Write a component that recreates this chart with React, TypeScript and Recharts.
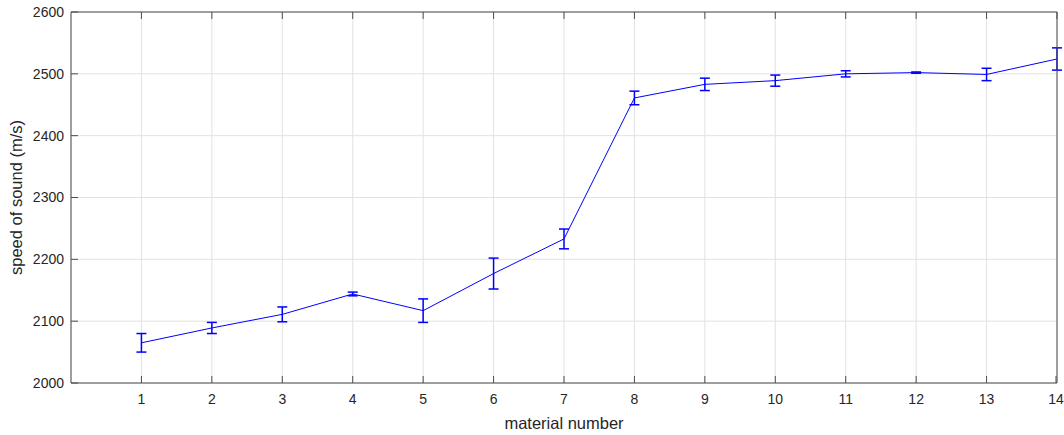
import { CartesianGrid, ErrorBar, Line, LineChart, XAxis, YAxis } from "recharts";

const materials = [1, 2, 3, 4, 5, 6, 7, 8, 9, 10, 11, 12, 13, 14];
const speeds = [2065, 2089, 2111, 2144, 2117, 2177, 2233, 2461, 2483, 2489, 2500, 2502, 2499, 2524];
const errors = [15, 9, 12, 3, 19, 25, 16, 11, 10, 9, 5, 1, 10, 18];
const xTicks = [1, 2, 3, 4, 5, 6, 7, 8, 9, 10, 11, 12, 13, 14];
const yTicks = [2000, 2100, 2200, 2300, 2400, 2500, 2600];

const data = materials.map((m, i) => ({ material: m, speed: speeds[i], err: errors[i] }));

const AXIS = "#4d4d4d";
const GRID = "#e2e2e2";
const TEXT = "#262626";
const FONT = "'Liberation Sans', Arial, sans-serif";
const TICK_LEN = 7;
const X_MARGIN = 11;
const Y_MARGIN = 7;

// MATLAB style: tick marks point into the box
const BottomTick = ({ x, y, payload }: any) => {
  const axisY = y - X_MARGIN;
  return (
    <g>
      <line x1={x} y1={axisY} x2={x} y2={axisY - TICK_LEN} stroke={AXIS} />
      <text x={x} y={y} dy="0.71em" textAnchor="middle" fill={TEXT} fontSize={14} fontFamily={FONT}>
        {payload.value}
      </text>
    </g>
  );
};

const LeftTick = ({ x, y, payload }: any) => {
  const axisX = x + Y_MARGIN;
  return (
    <g>
      <line x1={axisX} y1={y} x2={axisX + TICK_LEN} y2={y} stroke={AXIS} />
      <text x={x} y={y} dy="0.35em" textAnchor="end" fill={TEXT} fontSize={14} fontFamily={FONT}>
        {payload.value}
      </text>
    </g>
  );
};

const XLabel = (props: any) => {
  const vb = props.viewBox || {};
  const cx = (vb.x ?? 0) + (vb.width ?? 0) / 2;
  return (
    <text x={cx} y={429} textAnchor="middle" fill={TEXT} fontSize={16.5} fontFamily={FONT}>
      material number
    </text>
  );
};

const YLabel = (props: any) => {
  const vb = props.viewBox || {};
  const cy = (vb.y ?? 0) + (vb.height ?? 0) / 2;
  return (
    <text
      x={18}
      y={cy}
      transform={`rotate(-90, 18, ${cy})`}
      textAnchor="middle"
      dominantBaseline="middle"
      fill={TEXT}
      fontSize={16.5}
      fontFamily={FONT}
    >
      speed of sound (m/s)
    </text>
  );
};

export default function App() {
  return (
    <div style={{ position: "absolute", left: 0, top: 0, background: "#fff" }}>
      <LineChart width={1064} height={435} data={data} margin={{ top: 12, right: 7, bottom: 0, left: 0 }}>
        <CartesianGrid xAxisId="main" yAxisId="main" stroke={GRID} />
        <XAxis
          xAxisId="main"
          type="number"
          dataKey="material"
          domain={[0, 14]}
          ticks={xTicks}
          height={52}
          stroke={AXIS}
          tickLine={false}
          tickSize={0}
          tickMargin={X_MARGIN}
          tick={<BottomTick />}
          label={{ content: XLabel }}
        />
        <XAxis
          xAxisId="top"
          orientation="top"
          type="number"
          dataKey="material"
          domain={[0, 14]}
          ticks={xTicks}
          height={1}
          mirror
          stroke={AXIS}
          tickLine={{ stroke: AXIS }}
          tickSize={TICK_LEN}
          tickFormatter={() => ""}
        />
        <YAxis
          yAxisId="main"
          type="number"
          domain={[2000, 2600]}
          ticks={yTicks}
          width={71}
          stroke={AXIS}
          tickLine={false}
          tickSize={0}
          tickMargin={Y_MARGIN}
          tick={<LeftTick />}
          label={{ content: YLabel }}
        />
        <YAxis
          yAxisId="right"
          orientation="right"
          type="number"
          domain={[2000, 2600]}
          ticks={yTicks}
          width={1}
          mirror
          stroke={AXIS}
          tickLine={{ stroke: AXIS }}
          tickSize={TICK_LEN}
          tickFormatter={() => ""}
        />
        <Line
          xAxisId="main"
          yAxisId="main"
          type="linear"
          dataKey="speed"
          stroke="#0000ff"
          strokeWidth={1}
          dot={false}
          isAnimationActive={false}
        >
          <ErrorBar dataKey="err" width={5} stroke="#0000ff" strokeWidth={1.5} direction="y" />
        </Line>
      </LineChart>
    </div>
  );
}
